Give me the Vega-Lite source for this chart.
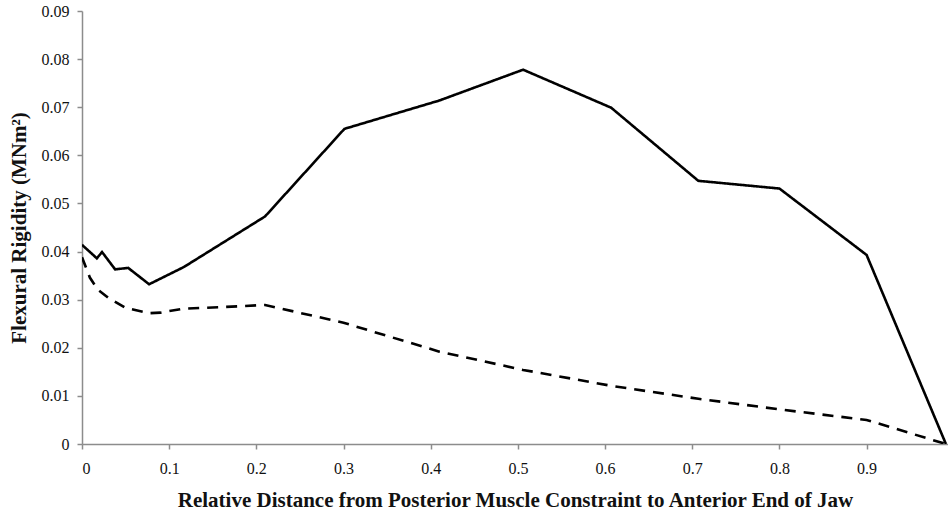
{
  "$schema": "https://vega.github.io/schema/vega-lite/v6.json",
  "width": 866,
  "height": 433,
  "autosize": {"type": "none"},
  "padding": {"left": 82, "top": 11, "right": 0, "bottom": 71},
  "background": "white",
  "config": {
    "view": {"stroke": null},
    "font": "Liberation Serif",
    "axis": {
      "domainColor": "#8c8c8c",
      "tickColor": "#8c8c8c",
      "domainWidth": 1.5,
      "tickWidth": 1.5,
      "grid": false,
      "labelFont": "Liberation Serif",
      "labelFontSize": 16,
      "labelColor": "#111",
      "titleFont": "Liberation Serif",
      "titleFontSize": 21,
      "titleFontWeight": "bold",
      "titleColor": "#111",
      "tickSize": 5
    }
  },
  "data": {
    "values": [
      {"x": 0, "y": 0.0414, "s": "a"},
      {"x": 0.017, "y": 0.0386, "s": "a"},
      {"x": 0.023, "y": 0.0399, "s": "a"},
      {"x": 0.038, "y": 0.0363, "s": "a"},
      {"x": 0.053, "y": 0.0366, "s": "a"},
      {"x": 0.077, "y": 0.0332, "s": "a"},
      {"x": 0.117, "y": 0.0368, "s": "a"},
      {"x": 0.210, "y": 0.0473, "s": "a"},
      {"x": 0.301, "y": 0.0655, "s": "a"},
      {"x": 0.410, "y": 0.0714, "s": "a"},
      {"x": 0.506, "y": 0.0778, "s": "a"},
      {"x": 0.607, "y": 0.0699, "s": "a"},
      {"x": 0.707, "y": 0.0547, "s": "a"},
      {"x": 0.800, "y": 0.0531, "s": "a"},
      {"x": 0.900, "y": 0.0393, "s": "a"},
      {"x": 0.991, "y": 0, "s": "a"},
      {"x": 0, "y": 0.0388, "s": "b"},
      {"x": 0.009, "y": 0.0346, "s": "b"},
      {"x": 0.018, "y": 0.0321, "s": "b"},
      {"x": 0.030, "y": 0.0304, "s": "b"},
      {"x": 0.050, "y": 0.0283, "s": "b"},
      {"x": 0.077, "y": 0.0272, "s": "b"},
      {"x": 0.090, "y": 0.0273, "s": "b"},
      {"x": 0.115, "y": 0.0281, "s": "b"},
      {"x": 0.165, "y": 0.0285, "s": "b"},
      {"x": 0.210, "y": 0.0289, "s": "b"},
      {"x": 0.300, "y": 0.0252, "s": "b"},
      {"x": 0.410, "y": 0.0192, "s": "b"},
      {"x": 0.506, "y": 0.0154, "s": "b"},
      {"x": 0.607, "y": 0.0121, "s": "b"},
      {"x": 0.707, "y": 0.0094, "s": "b"},
      {"x": 0.800, "y": 0.0072, "s": "b"},
      {"x": 0.900, "y": 0.0050, "s": "b"},
      {"x": 0.991, "y": 0, "s": "b"}
    ]
  },
  "mark": {"type": "line", "color": "black", "strokeWidth": 2.6, "clip": true},
  "encoding": {
    "x": {
      "field": "x",
      "type": "quantitative",
      "scale": {"domain": [0, 0.9934], "nice": false},
      "axis": {
        "values": [0, 0.1, 0.2, 0.3, 0.4, 0.5, 0.6, 0.7, 0.8, 0.9],
        "format": "~g",
        "labelPadding": 11,
        "titlePadding": 13,
        "title": "Relative Distance from Posterior Muscle Constraint to Anterior End of Jaw"
      }
    },
    "y": {
      "field": "y",
      "type": "quantitative",
      "scale": {"domain": [0, 0.09], "nice": false},
      "axis": {
        "values": [0, 0.01, 0.02, 0.03, 0.04, 0.05, 0.06, 0.07, 0.08, 0.09],
        "format": "~g",
        "labelPadding": 8,
        "titlePadding": 12,
        "title": "Flexural Rigidity (MNm²)"
      }
    },
    "detail": {"field": "s"},
    "strokeDash": {
      "field": "s",
      "type": "nominal",
      "scale": {"domain": ["a", "b"], "range": [[1, 0], [11, 8]]},
      "legend": null
    }
  }
}
